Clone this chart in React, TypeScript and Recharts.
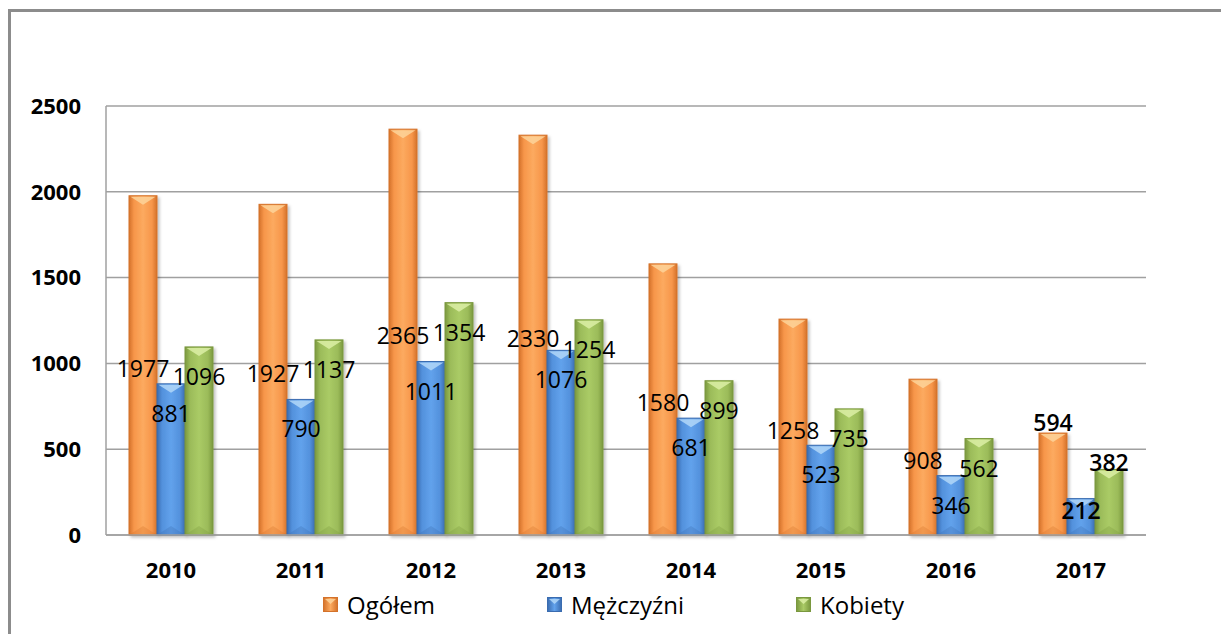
import { BarChart, Bar, XAxis, YAxis, CartesianGrid, LabelList } from 'recharts';

const years = ['2010', '2011', '2012', '2013', '2014', '2015', '2016', '2017'];
const ogolem = [1977, 1927, 2365, 2330, 1580, 1258, 908, 594];
const mezczyzni = [881, 790, 1011, 1076, 681, 523, 346, 212];
const kobiety = [1096, 1137, 1354, 1254, 899, 735, 562, 382];
const yTicks = [0, 500, 1000, 1500, 2000, 2500];

const data = years.map((year, i) => ({
  year,
  'Ogółem': ogolem[i],
  'Mężczyźni': mezczyzni[i],
  'Kobiety': kobiety[i],
}));

type Series = { key: string; id: string; edge: string; mid: string; hi: string; top: string };

const series: Series[] = [
  { key: 'Ogółem', id: 'gO', edge: '#d4722a', mid: '#f7964a', hi: '#fcaa5f', top: '#fdd49a' },
  { key: 'Mężczyźni', id: 'gM', edge: '#3a6cb0', mid: '#5391dc', hi: '#62a2ec', top: '#b1d7f8' },
  { key: 'Kobiety', id: 'gK', edge: '#7a983f', mid: '#9bbb59', hi: '#aacb66', top: '#dcefa6' },
];

const font = '"Open Sans", sans-serif';

function BevelBar(props: any) {
  const { x, y, width, height, s } = props;
  if (!height || height <= 0) return null;
  const c = Math.min(9, height / 2);
  return (
    <g filter="url(#barShadow)">
      <rect x={x} y={y} width={width} height={height} fill={`url(#${s.id})`} stroke={s.edge} strokeWidth={1} />
      <polygon
        points={`${x + 1.5},${y + 1} ${x + width - 1.5},${y + 1} ${x + width / 2},${y + c}`}
        fill={s.top}
        opacity={0.85}
      />
      <polygon
        points={`${x + 1.5},${y + height - 1} ${x + width - 1.5},${y + height - 1} ${x + width / 2},${y + height - c}`}
        fill={s.edge}
        opacity={0.3}
      />
    </g>
  );
}

// label placement mimics the original: Ogółem centred, the others near the top,
// last year's labels nudged by hand in the source chart
function makeLabel(si: number) {
  return (props: any) => {
    const vb = props.viewBox ?? props;
    const { x, y, width, height } = vb;
    const { value, index } = props;
    const last = index === years.length - 1;
    let cy = si === 0 ? y + height / 2 + 3 : y + 29;
    if (last) cy = si === 0 ? y - 11 : si === 1 ? y + 11 : y - 7;
    return (
      <text
        x={x + width / 2}
        y={cy}
        textAnchor="middle"
        dominantBaseline="central"
        fontFamily={font}
        fontSize={23}
        fontWeight={last ? 600 : 400}
        fill="#000"
      >
        {value}
      </text>
    );
  };
}

function LegendBox() {
  return (
    <div style={{ display: 'flex', alignItems: 'center', fontFamily: font, fontSize: 24, color: '#000' }}>
      {series.map((s, i) => (
        <div key={s.key} style={{ display: 'flex', alignItems: 'center', marginRight: i < 2 ? 112 : 0 }}>
          <svg width={15} height={15} style={{ marginRight: 9 }}>
            <defs>
              <linearGradient id={`${s.id}L`} x1="0" y1="0" x2="1" y2="0">
                <stop offset="0%" stopColor={s.edge} />
                <stop offset="50%" stopColor={s.hi} />
                <stop offset="100%" stopColor={s.edge} />
              </linearGradient>
            </defs>
            <rect x={0.5} y={0.5} width={14} height={14} fill={`url(#${s.id}L)`} stroke={s.edge} />
            <polygon points="2,2 13,2 7.5,7" fill={s.top} opacity={0.85} />
          </svg>
          <span>{s.key}</span>
        </div>
      ))}
    </div>
  );
}

export default function App() {
  return (
    <div style={{ position: 'absolute', left: 0, top: 0, width: 1221, height: 634, background: '#fff', overflow: 'hidden' }}>
      <div
        style={{
          position: 'absolute',
          left: 8,
          top: 9,
          width: 1300,
          height: 700,
          borderLeft: '3px solid #8c8c8c',
          borderTop: '3px solid #8c8c8c',
        }}
      />
      <div style={{ position: 'absolute', left: 0, top: 0 }}>
        <BarChart
          width={1221}
          height={634}
          data={data}
          margin={{ top: 106, right: 75, bottom: 0, left: 0 }}
          barSize={28}
          barGap={0}
        >
          <defs>
            {series.map((s) => (
              <linearGradient key={s.id} id={s.id} x1="0" y1="0" x2="1" y2="0">
                <stop offset="0%" stopColor={s.edge} />
                <stop offset="18%" stopColor={s.mid} />
                <stop offset="50%" stopColor={s.hi} />
                <stop offset="82%" stopColor={s.mid} />
                <stop offset="100%" stopColor={s.edge} />
              </linearGradient>
            ))}
            <filter id="barShadow" x="-20%" y="-5%" width="150%" height="115%">
              <feDropShadow dx="2" dy="2" stdDeviation="1.5" floodColor="#000" floodOpacity="0.25" />
            </filter>
          </defs>
          <CartesianGrid vertical={false} stroke="#a0a0a0" strokeWidth={1.5} />
          <XAxis
            dataKey="year"
            height={99}
            tickLine={false}
            tickSize={0}
            tickMargin={27}
            axisLine={{ stroke: '#a0a0a0', strokeWidth: 1.5 }}
            tick={{ fontFamily: font, fontSize: 22, fontWeight: 700, fill: '#000' }}
          />
          <YAxis
            width={106}
            domain={[0, 2500]}
            ticks={yTicks}
            tickLine={false}
            tickSize={0}
            tickMargin={25}
            axisLine={{ stroke: '#a0a0a0', strokeWidth: 1.5 }}
            tick={{ fontFamily: font, fontSize: 22, fontWeight: 700, fill: '#000' }}
          />
          {series.map((s, si) => (
            <Bar
              key={s.key}
              dataKey={s.key}
              fill={s.mid}
              isAnimationActive={false}
              shape={(p: any) => <BevelBar {...p} s={s} />}
            >
              <LabelList dataKey={s.key} content={makeLabel(si)} />
            </Bar>
          ))}
        </BarChart>
      </div>
      <div style={{ position: 'absolute', left: 323, top: 588 }}>
        <LegendBox />
      </div>
    </div>
  );
}
